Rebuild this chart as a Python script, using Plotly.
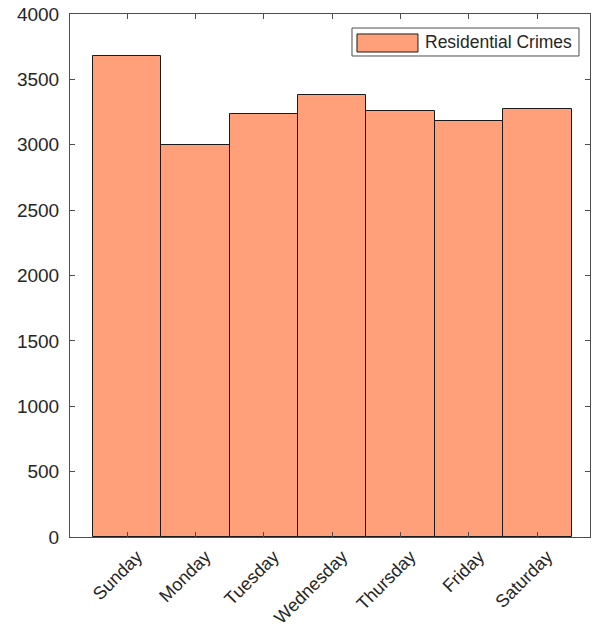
import plotly.graph_objects as go

days = ["Sunday", "Monday", "Tuesday", "Wednesday", "Thursday", "Friday", "Saturday"]
crimes = [3675, 2998, 3232, 3383, 3261, 3180, 3275]
y_ticks = [0, 500, 1000, 1500, 2000, 2500, 3000, 3500, 4000]
series_name = "Residential Crimes"
bar_color = "#FFA07A"

fig = go.Figure()
fig.add_trace(go.Bar(
    x=list(range(1, len(days) + 1)), y=crimes, name=series_name,
    width=1.0,
    marker=dict(color=bar_color, line=dict(color="#1a1a1a", width=1)),
    showlegend=False,
))

font_family = "Liberation Sans, Arial"
axis_common = dict(
    showline=True, linecolor="#4d4d4d", linewidth=1, mirror="ticks",
    ticks="inside", ticklen=5, tickcolor="#4d4d4d", showgrid=False, zeroline=False,
    automargin=False,
)

# Legend drawn as a box with a wide swatch (MATLAB style)
fig.add_shape(type="rect", xref="paper", yref="paper",
              x0=0.5423, x1=0.9788, y0=0.9197, y1=0.9732,
              line=dict(color="#4d4d4d", width=1), fillcolor="white", layer="above")
fig.add_shape(type="rect", xref="paper", yref="paper",
              x0=0.5519, x1=0.6692, y0=0.9273, y1=0.9618,
              line=dict(color="#1a1a1a", width=1), fillcolor=bar_color, layer="above")
fig.add_annotation(xref="paper", yref="paper", x=0.6788, y=0.9465,
                   xanchor="left", yanchor="middle", showarrow=False,
                   text=series_name,
                   font=dict(family=font_family, size=17.5, color="#262626"))

fig.update_layout(
    width=601, height=631,
    margin=dict(l=70, r=11, t=14, b=94, autoexpand=False),
    paper_bgcolor="white", plot_bgcolor="white",
    bargap=0,
    showlegend=False,
    xaxis=dict(
        range=[0.165, 7.77], tickmode="array",
        tickvals=list(range(1, len(days) + 1)), ticktext=days, tickangle=-45,
        tickfont=dict(family=font_family, size=18, color="#262626"),
        ticklabelshift=10, ticklabelstandoff=1,
        **axis_common,
    ),
    yaxis=dict(
        range=[0, 4000], tickmode="array", tickvals=y_ticks,
        ticktext=[str(v) for v in y_ticks], ticklabelstandoff=6,
        tickfont=dict(family=font_family, size=19, color="#262626"),
        **axis_common,
    ),
)

fig.write_html(
    "out.html",
    config={"responsive": False, "displayModeBar": False},
    post_script="document.body.style.margin='0';document.body.style.padding='0';"
                "document.body.style.overflow='hidden';",
)
